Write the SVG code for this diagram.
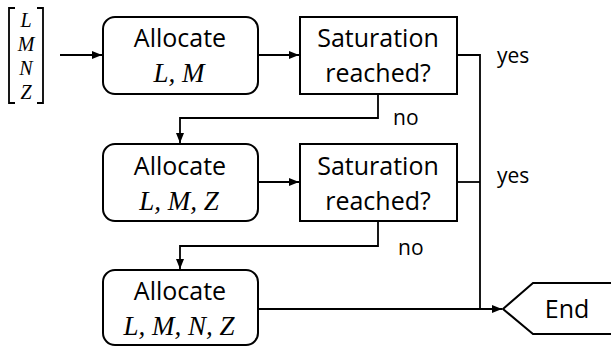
<svg xmlns="http://www.w3.org/2000/svg" width="611" height="347" viewBox="0 0 611 347">
<defs>
<marker id="ah" markerWidth="10" markerHeight="8" refX="10" refY="4" orient="auto" markerUnits="userSpaceOnUse">
<path d="M0,0 L10,4 L0,8 Z" fill="#000"/>
</marker>
<style>
.box{fill:#fff;stroke:#000;stroke-width:2}
.t{font-family:"Open Sans","Liberation Sans",sans-serif;font-size:25px;fill:#000;text-anchor:middle}
.m{font-family:"Liberation Serif","DejaVu Serif",serif;font-style:italic;font-size:27px;fill:#000;text-anchor:middle}
.mv{font-family:"Liberation Serif","DejaVu Serif",serif;font-style:italic;font-size:20px;fill:#000;text-anchor:middle}
.lbl{font-family:"Open Sans","Liberation Sans",sans-serif;font-size:21px;fill:#000}
.c{fill:none;stroke:#000;stroke-width:1.8}
</style>
</defs>
<rect width="611" height="347" fill="#fff"/>
<g id="input">
<path d="M15,8 H9 V103 H15 M37,8 H43 V103 H37" fill="none" stroke="#000" stroke-width="1.8"/>
<text class="mv" x="26" y="27">L</text>
<text class="mv" x="26" y="51">M</text>
<text class="mv" x="26" y="75">N</text>
<text class="mv" x="26" y="99">Z</text>
</g>
<g id="alloc1">
<rect class="box" x="103" y="17" width="155" height="77" rx="12"/>
<text class="t" x="180" y="47">Allocate</text>
<text class="m" x="179" y="82">L, M</text>
</g>
<g id="sat1">
<rect class="box" x="300" y="17" width="157" height="77"/>
<text class="t" x="378" y="47">Saturation</text>
<text class="t" x="378" y="82">reached?</text>
</g>
<g id="alloc2">
<rect class="box" x="103" y="144" width="155" height="77" rx="12"/>
<text class="t" x="180" y="175">Allocate</text>
<text class="m" x="179" y="210">L, M, Z</text>
</g>
<g id="sat2">
<rect class="box" x="300" y="144" width="157" height="77"/>
<text class="t" x="378" y="175">Saturation</text>
<text class="t" x="378" y="210">reached?</text>
</g>
<g id="alloc3">
<rect class="box" x="103" y="270" width="155" height="75" rx="12"/>
<text class="t" x="180" y="300">Allocate</text>
<text class="m" x="179" y="335">L, M, N, Z</text>
</g>
<g id="end">
<path class="box" d="M620,283 H533 L503,309 L533,334 H620"/>
<text class="t" x="567" y="318">End</text>
</g>
<g id="connectors">
<path class="c" d="M60,55 H102" marker-end="url(#ah)"/>
<path class="c" d="M258,55 H299" marker-end="url(#ah)"/>
<path class="c" d="M457,55 H480 V309"/>
<path class="c" d="M457,182 H480"/>
<path class="c" d="M378,94 V118 H180 V143" marker-end="url(#ah)"/>
<path class="c" d="M258,182 H299" marker-end="url(#ah)"/>
<path class="c" d="M378,221 V246 H180 V269" marker-end="url(#ah)"/>
<path class="c" d="M258,309 H502" marker-end="url(#ah)"/>
<text class="lbl" x="497" y="63">yes</text>
<text class="lbl" x="497" y="183">yes</text>
<text class="lbl" x="393" y="125">no</text>
<text class="lbl" x="398" y="255">no</text>
</g>
</svg>
